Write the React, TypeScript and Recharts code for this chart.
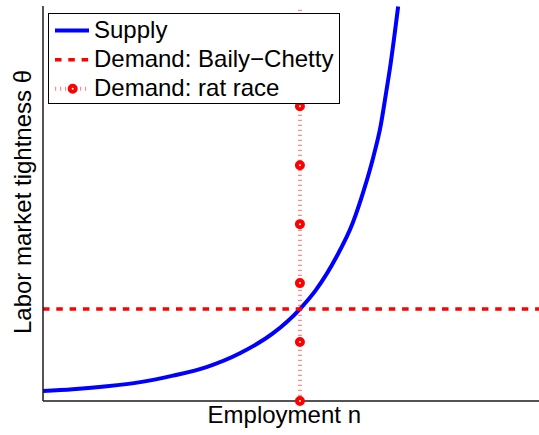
import { ComposedChart, Line, Scatter, XAxis, YAxis, ReferenceLine, Legend, Label } from 'recharts';

// supply curve: employment n vs labor market tightness theta
const supplyN = [0, 0.06, 0.129, 0.196, 0.262, 0.331, 0.397, 0.464, 0.518, 0.55, 0.592, 0.624, 0.647, 0.666, 0.681, 0.691, 0.701, 0.716];
const supplyTheta = [0.17, 0.2, 0.25, 0.32, 0.43, 0.58, 0.81, 1.15, 1.56, 1.88, 2.45, 3.01, 3.58, 4.14, 4.68, 5.19, 5.73, 6.69];

// Baily-Chetty demand: flat tightness
const bailyChettyN = [0, 1];
const bailyChettyTheta = 1.56;

// rat race demand: vertical at n*
const ratRaceN = 0.518;
const ratRaceTheta = [0, 1, 2, 3, 4, 5, 6];

const seriesNames = ['Supply', 'Demand: Baily\u2212Chetty', 'Demand: rat race'];

const FONT = '"Liberation Sans", Arial, Helvetica, sans-serif';
const RED = '#ff0000';
const BLUE = '#0000ff';

const supplyData = supplyN.map((n, i) => ({ n, theta: supplyTheta[i] }));
const bailyChettyData = bailyChettyN.map((n) => ({ n, theta: bailyChettyTheta }));
const ratRaceData = ratRaceTheta.map((theta) => ({ n: ratRaceN, theta }));

const XLabel = (props: any) => {
  const { viewBox } = props;
  return (
    <text x={viewBox.x + viewBox.width * 0.4865} y={viewBox.y + 22} textAnchor="middle" fontSize={24} fontFamily={FONT} fill="#000">
      Employment n
    </text>
  );
};

const YLabel = (props: any) => {
  const { viewBox } = props;
  const x = 31;
  const y = viewBox.y + 196;
  return (
    <text x={x} y={y} transform={`rotate(-90, ${x}, ${y})`} textAnchor="middle" fontSize={24} fontFamily={FONT} fill="#000">
      Labor market tightness θ
    </text>
  );
};

const RatRaceDot = (props: any) => (
  <circle cx={props.cx} cy={props.cy} r={3} fill="#fff" stroke={RED} strokeWidth={4} />
);

const LegendBox = () => (
  <div style={{ width: 292, height: 91.5, boxSizing: 'border-box', border: '1px solid #000', background: '#fff' }}>
    <svg width={290} height={89.5} style={{ display: 'block' }}>
      <line x1={6} x2={40} y1={16.5} y2={16.5} stroke={BLUE} strokeWidth={4} />
      <line x1={6} x2={40} y1={45.8} y2={45.8} stroke={RED} strokeWidth={3.5} strokeDasharray="6.5 6.8" />
      <line x1={6} x2={40} y1={74.8} y2={74.8} stroke={RED} strokeOpacity={0.45} strokeWidth={4} strokeDasharray="1.2 3.8" />
      <circle cx={23.7} cy={74.8} r={3} fill="#fff" stroke={RED} strokeWidth={4} />
      {seriesNames.map((name, i) => (
        <text key={name} x={45} y={24 + i * 28.8} fontSize={24} fontFamily={FONT} fill="#000">
          {name}
        </text>
      ))}
    </svg>
  </div>
);

export default function App() {
  return (
    <div style={{ position: 'absolute', left: 0, top: 0, fontFamily: FONT }}>
      <ComposedChart width={539} height={435} margin={{ top: 6, right: 0, bottom: 0, left: 0 }}>
        <XAxis
          dataKey="n"
          type="number"
          domain={[0, 1]}
          height={34}
          tick={false}
          tickLine={false}
          axisLine={{ stroke: '#1a1a1a', strokeWidth: 1.5 }}
        >
          <Label content={XLabel} />
        </XAxis>
        <XAxis
          xAxisId="top"
          orientation="top"
          type="number"
          domain={[0, 1]}
          height={0}
          tick={false}
          tickLine={false}
          axisLine={{ stroke: '#333333', strokeWidth: 1.2 }}
        />
        <YAxis
          type="number"
          domain={[0, 6.7]}
          width={43}
          tick={false}
          tickLine={false}
          axisLine={{ stroke: '#1a1a1a', strokeWidth: 1.5 }}
        >
          <Label content={YLabel} />
        </YAxis>
        <Line
          data={supplyData}
          dataKey="theta"
          name={seriesNames[0]}
          type="monotone"
          stroke={BLUE}
          strokeWidth={4}
          dot={false}
          activeDot={false}
          isAnimationActive={false}
        />
        <Line
          data={bailyChettyData}
          dataKey="theta"
          name={seriesNames[1]}
          type="linear"
          stroke={RED}
          strokeWidth={3.5}
          strokeDasharray="6.5 6.8"
          dot={false}
          activeDot={false}
          isAnimationActive={false}
        />
        <ReferenceLine x={ratRaceN} stroke={RED} strokeOpacity={0.45} strokeWidth={4} strokeDasharray="1.2 3.8" />
        <Scatter
          data={ratRaceData}
          dataKey="theta"
          name={seriesNames[2]}
          fill={RED}
          shape={RatRaceDot}
          isAnimationActive={false}
        />
        <Legend
          layout="vertical"
          align="center"
          verticalAlign="middle"
          wrapperStyle={{ left: 48, top: 12.5, width: 292, height: 91.5 }}
          content={LegendBox}
        />
      </ComposedChart>
    </div>
  );
}
